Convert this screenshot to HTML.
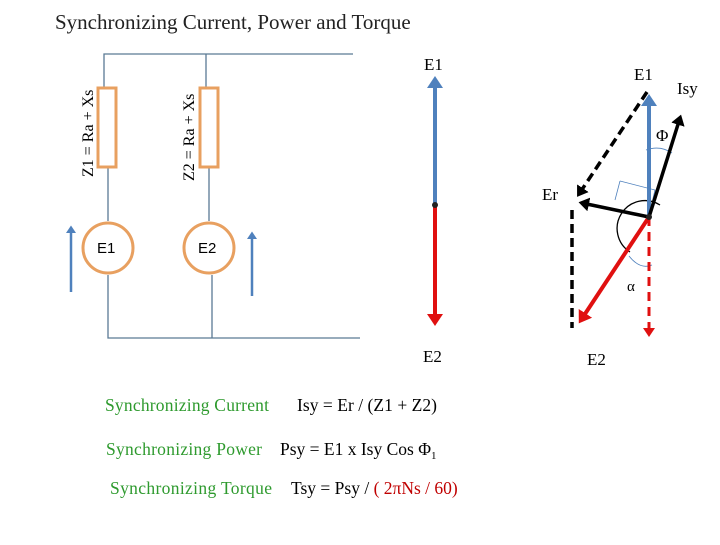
<!DOCTYPE html>
<html><head><style>
body{margin:0;background:#fff;}
svg text{font-family:"Liberation Serif",serif;}
</style></head><body>
<svg width="720" height="540" xmlns="http://www.w3.org/2000/svg">
<defs>
<marker id="ab" markerWidth="4" markerHeight="4" refX="2" refY="2" orient="auto"><path d="M0,0 L3,2 L0,4 Z" fill="#4f81bd"/></marker>
<marker id="ar" markerWidth="4" markerHeight="4" refX="2" refY="2" orient="auto"><path d="M0,0 L3,2 L0,4 Z" fill="#e01010"/></marker>
<marker id="ak" markerWidth="4" markerHeight="4" refX="2" refY="2" orient="auto"><path d="M0,0 L3,2 L0,4 Z" fill="#000"/></marker>
</defs>
<text x="55" y="29" font-size="21" fill="#222">Synchronizing Current, Power and Torque</text>
<g stroke="#5a7a94" stroke-width="1.3" fill="none">
<path d="M104,88 V54 H353"/><path d="M206,88 V54"/>
<path d="M108,167 V221"/><path d="M209,167 V221"/>
<path d="M108,275 V338 H360"/><path d="M212,275 V338"/>
</g>
<rect x="98" y="88" width="18" height="79" fill="none" stroke="#e8a060" stroke-width="3"/>
<rect x="200" y="88" width="18" height="79" fill="none" stroke="#e8a060" stroke-width="3"/>
<circle cx="108" cy="248" r="25" fill="none" stroke="#e8a060" stroke-width="3"/>
<circle cx="209" cy="248" r="25" fill="none" stroke="#e8a060" stroke-width="3"/>
<text x="97" y="253" font-size="15" style="font-family:'Liberation Sans',sans-serif">E1</text>
<text x="198" y="253" font-size="15" style="font-family:'Liberation Sans',sans-serif">E2</text>
<text transform="translate(93,177) rotate(-90)" font-size="16">Z1 = Ra + Xs</text>
<text transform="translate(194,181) rotate(-90)" font-size="16">Z2 = Ra + Xs</text>
<path d="M71,292 V228" stroke="#4f81bd" stroke-width="2.5" marker-end="url(#ab)"/>
<path d="M252,296 V234" stroke="#4f81bd" stroke-width="2.5" marker-end="url(#ab)"/>
<path d="M435,205 V80" stroke="#4f81bd" stroke-width="4" marker-end="url(#ab)"/>
<path d="M435,205 V322" stroke="#e01010" stroke-width="4" marker-end="url(#ar)"/>
<circle cx="435" cy="205" r="3" fill="#222"/>
<text x="424" y="70" font-size="17">E1</text>
<text x="423" y="362" font-size="17">E2</text>
<!-- phasor -->
<path d="M620,181 L655,190 L651,207 M620,181 L615,200" stroke="#4f81bd" stroke-width="0.8" fill="none"/>
<path d="M646,150 Q660,145 672,153" stroke="#4f81bd" stroke-width="0.8" fill="none"/>
<path d="M629,256 Q640,270 652,265" stroke="#4f81bd" stroke-width="0.8" fill="none"/>
<path d="M660,205 A20,20 0 1 0 630,252" stroke="#000" stroke-width="1.3" fill="none"/>
<path d="M649,217 V98" stroke="#4f81bd" stroke-width="4" marker-end="url(#ab)"/>
<path d="M649,217 V334" stroke="#e01010" stroke-width="3" stroke-dasharray="9,6" marker-end="url(#ar)"/>
<path d="M649,217 L581,320" stroke="#e01010" stroke-width="4" marker-end="url(#ar)"/>
<path d="M649,217 L680,118" stroke="#000" stroke-width="3.5" marker-end="url(#ak)"/>
<path d="M649,217 L582,203" stroke="#000" stroke-width="3.5" marker-end="url(#ak)"/>
<path d="M647,92 L579,194" stroke="#000" stroke-width="3.5" stroke-dasharray="9,5" marker-end="url(#ak)"/>
<path d="M572,210 V328" stroke="#000" stroke-width="3.5" stroke-dasharray="9,5"/>
<circle cx="649" cy="217" r="3" fill="#222"/>
<text x="634" y="80" font-size="17">E1</text>
<text x="677" y="94" font-size="17">Isy</text>
<text x="656" y="141" font-size="17">Φ</text>
<text x="542" y="200" font-size="17">Er</text>
<text x="627" y="291" font-size="15">α</text>
<text x="587" y="365" font-size="17">E2</text>
<g font-size="17.5">
<text x="105" y="411" fill="#2e9a2e" textLength="164">Synchronizing Current</text>
<text x="297" y="411" fill="#000" textLength="140">Isy = Er / (Z1 + Z2)</text>
<text x="106" y="455" fill="#2e9a2e" textLength="156">Synchronizing Power</text>
<text x="280" y="455" fill="#000">Psy = E1 x Isy Cos Φ<tspan font-size="11" dy="4">1</tspan></text>
<text x="110" y="494" fill="#2e9a2e" textLength="162">Synchronizing Torque</text>
<text x="291" y="494" fill="#000">Tsy = Psy / <tspan fill="#c00000">( 2πNs / 60)</tspan></text>
</g>
</svg>
</body></html>
